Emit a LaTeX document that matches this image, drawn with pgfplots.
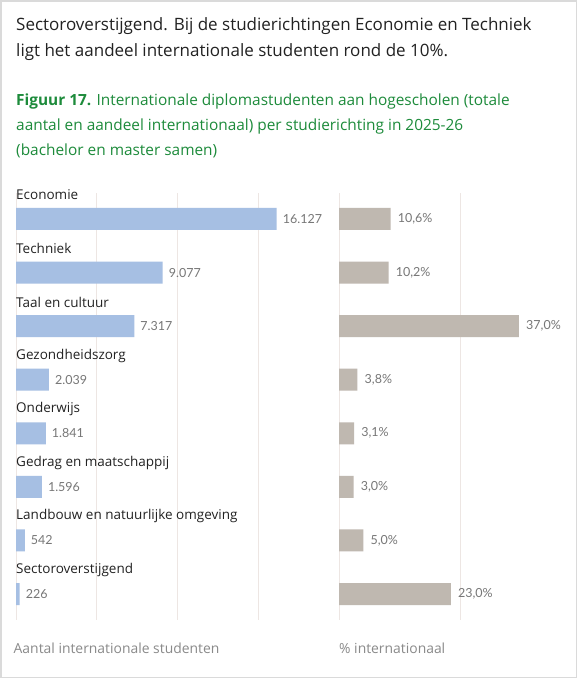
\documentclass[border=0pt]{standalone}
\usepackage{fontspec}
\setmainfont{Open Sans}
\newfontfamily\numfont{Lato}
\usepackage{pgfplots}
\pgfplotsset{compat=1.18}
\definecolor{txt}{HTML}{222222}
\definecolor{grn}{HTML}{1D8B3B}
\definecolor{barblue}{HTML}{A6BFE3}
\definecolor{bartaupe}{HTML}{BFB8B0}
\definecolor{gridc}{HTML}{EDE6E3}
\definecolor{valc}{HTML}{777777}
\definecolor{axlab}{HTML}{8A8A8A}
\definecolor{framec}{HTML}{DADADA}
\begin{document}
\begin{tikzpicture}[x=1pt,y=1pt]
\useasboundingbox (0,0) rectangle (577,-678);
\fill[white] (0,0) rectangle (577,-678);
\draw[framec, line width=1.5pt] (0.75,-0.75) rectangle (576.25,-677.25);
\node[anchor=base west, inner sep=0, font=\fontsize{17}{20}\selectfont, text=txt] at (16,-30.5) {Sectoroverstijgend. Bij de studierichtingen Economie en Techniek};
\node[anchor=base west, inner sep=0, font=\fontsize{17}{20}\selectfont, text=txt] at (16,-56.5) {ligt het aandeel internationale studenten rond de 10\%.};
\node[anchor=base west, inner sep=0, font=\fontsize{15.4}{18}\selectfont, text=grn] at (16,-105) {\textbf{Figuur 17.} Internationale diplomastudenten aan hogescholen (totale};
\node[anchor=base west, inner sep=0, font=\fontsize{15.4}{18}\selectfont, text=grn] at (16,-130) {aantal en aandeel internationaal) per studierichting in 2025-26};
\node[anchor=base west, inner sep=0, font=\fontsize{15.4}{18}\selectfont, text=grn] at (16,-155) {(bachelor en master samen)};
\node[anchor=west, inner sep=0, font=\fontsize{13.9}{16}\selectfont, text=axlab] at (13.5,-648) {Aantal internationale studenten};
\node[anchor=west, inner sep=0, font=\fontsize{13.9}{16}\selectfont, text=axlab] at (339,-648) {\% internationaal};
\begin{axis}[
  at={(16pt,-193pt)}, anchor=north west, scale only axis,
  width=323.3pt, height=427pt,
  xmin=0, xmax=20000, ymin=-0.485, ymax=7.485, y dir=reverse,
  xbar, bar width=22pt,
  axis line style={draw=none}, tick style={draw=none},
  xtick={0,5000,10000,15000}, xticklabels={}, ytick=\empty, scaled x ticks=false,
  xmajorgrids, grid style={gridc, line width=1pt},
  clip=false,
  /pgf/number format/.cd, fixed, precision=0, 1000 sep={.}, assume math mode=true,
  /pgfplots/.cd,
  nodes near coords,
  nodes near coords style={font=\numfont\fontsize{12.5}{15}\selectfont, text=valc, inner sep=0, xshift=6pt, anchor=west},
]
\addplot[fill=barblue, draw=none] coordinates {(16127,0) (9077,1) (7317,2) (2039,3) (1841,4) (1596,5) (542,6) (226,7)};
\begin{scope}[every node/.style={anchor=west, inner sep=0, font=\fontsize{13.5}{15}\selectfont, text=txt}]
\node at (axis cs:0,-0.448) {Economie};
\node at (axis cs:0,0.552) {Techniek};
\node at (axis cs:0,1.552) {Taal en cultuur};
\node at (axis cs:0,2.552) {Gezondheidszorg};
\node at (axis cs:0,3.552) {Onderwijs};
\node at (axis cs:0,4.552) {Gedrag en maatschappij};
\node at (axis cs:0,5.552) {Landbouw en natuurlijke omgeving};
\node at (axis cs:0,6.552) {Sectoroverstijgend};
\end{scope}
\end{axis}
\begin{axis}[
  at={(339pt,-193pt)}, anchor=north west, scale only axis,
  width=233.5pt, height=427pt,
  xmin=0, xmax=48, ymin=-0.485, ymax=7.485, y dir=reverse,
  xbar, bar width=22pt,
  axis line style={draw=none}, tick style={draw=none},
  xtick={0,25}, xticklabels={}, ytick=\empty,
  xmajorgrids, grid style={gridc, line width=1pt},
  clip=false,
  /pgf/number format/.cd, fixed, fixed zerofill, precision=1, use comma, assume math mode=true,
  /pgfplots/.cd,
  nodes near coords={\pgfmathprintnumber{\pgfplotspointmeta}\%},
  nodes near coords style={font=\numfont\fontsize{12.5}{15}\selectfont, text=valc, inner sep=0, xshift=7pt, anchor=west},
]
\addplot[fill=bartaupe, draw=none] coordinates {(10.6,0) (10.2,1) (37.0,2) (3.8,3) (3.1,4) (3.0,5) (5.0,6) (23.0,7)};
\end{axis}
\end{tikzpicture}
\end{document}
